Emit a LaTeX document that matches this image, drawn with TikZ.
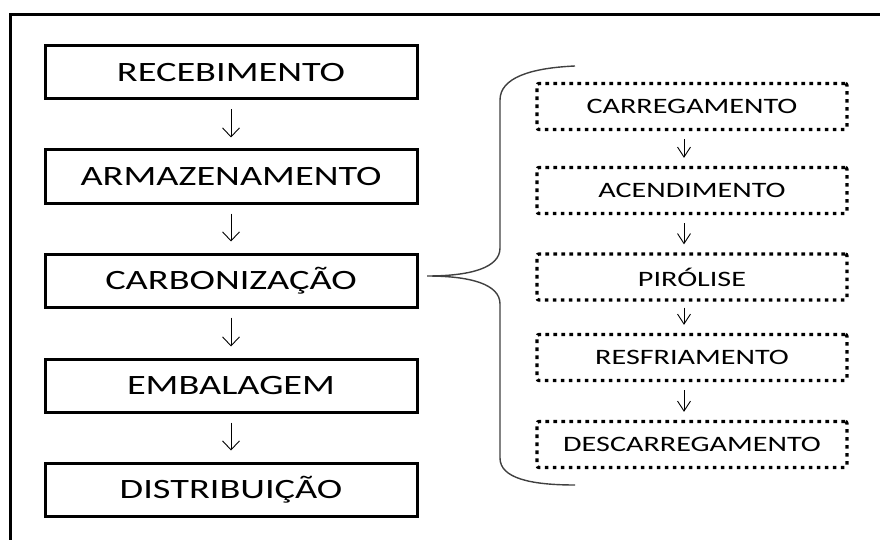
\documentclass[tikz,border=0pt]{standalone}
\usepackage{fontspec}
\setmainfont[FakeStretch=1.37]{Carlito}
\usetikzlibrary{arrows.meta}
\begin{document}
\begin{tikzpicture}[x=1pt,y=-1pt,
  mainbox/.style={draw=black, line width=3pt, minimum width=372pt, minimum height=53pt, inner sep=0pt, font=\fontsize{28}{30}\selectfont},
  subbox/.style={draw=black, line width=3.3pt, dash pattern=on 3.6pt off 4.4pt, rounded corners=2pt, minimum width=310pt, minimum height=46pt, inner sep=0pt, font=\fontsize{22}{24}\selectfont},
  bigarr/.style={line width=0.9pt, -{Straight Barb[length=9pt,width=17pt,line width=0.9pt]}},
  smallarr/.style={line width=0.9pt, -{Straight Barb[length=10pt,width=13pt,line width=0.9pt]}},
  bracestyle/.style={line width=1.4pt, draw=black!75}
]
\useasboundingbox (0,0) rectangle (880,540);
% frame (top and left edges)
\draw[line width=3pt] (10,560) -- (10,15) -- (885,15);

% main flow
\node[mainbox] (m1) at (231,72.5) {RECEBIMENTO};
\node[mainbox] (m2) at (231,176.5) {ARMAZENAMENTO};
\node[mainbox] (m3) at (231,280.5) {CARBONIZAÇÃO};
\node[mainbox] (m4) at (231,385.5) {EMBALAGEM};
\node[mainbox] (m5) at (231,489.5) {DISTRIBUIÇÃO};

\draw[bigarr] ([yshift=-9pt]m1.south) -- ([yshift=11pt]m2.north);
\draw[bigarr] ([yshift=-9pt]m2.south) -- ([yshift=11pt]m3.north);
\draw[bigarr] ([yshift=-9pt]m3.south) -- ([yshift=11pt]m4.north);
\draw[bigarr] ([yshift=-9pt]m4.south) -- ([yshift=11pt]m5.north);

% sub steps
\node[subbox] (s1) at (692,106.5) {CARREGAMENTO};
\node[subbox] (s2) at (692,190.5) {ACENDIMENTO};
\node[subbox] (s3) at (692,277) {PIRÓLISE};
\node[subbox] (s4) at (692,357.5) {RESFRIAMENTO};
\node[subbox] (s5) at (692,444.5) {DESCARREGAMENTO};

\draw[smallarr] ([xshift=-8pt,yshift=-8pt]s1.south) -- ([xshift=-8pt,yshift=8pt]s2.north);
\draw[smallarr] ([xshift=-8pt,yshift=-8pt]s2.south) -- ([xshift=-8pt,yshift=8pt]s3.north);
\draw[smallarr] ([xshift=-8pt,yshift=-6pt]s3.south) -- ([xshift=-8pt,yshift=8pt]s4.north);
\draw[smallarr] ([xshift=-8pt,yshift=-8pt]s4.south) -- ([xshift=-8pt,yshift=8pt]s5.north);

% brace
\coordinate (btop) at (575,66);
\coordinate (btip) at (427,276);
\coordinate (bbot) at (575,485);
\draw[bracestyle] (btop) .. controls (530,68) and (500,78) .. (500,100)
  -- (500,248) .. controls (500,268) and (470,276) .. (btip)
  .. controls (470,276) and (500,284) .. (500,304)
  -- (500,458) .. controls (500,478) and (530,485) .. (bbot);
\end{tikzpicture}
\end{document}
